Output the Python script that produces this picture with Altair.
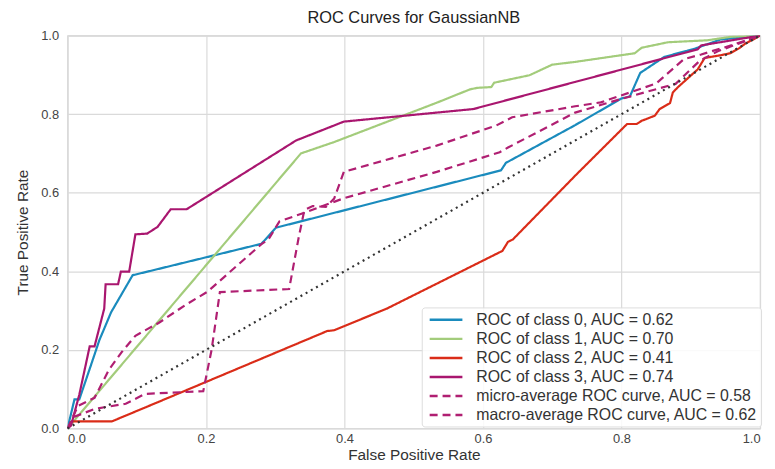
import altair as alt
import pandas as pd

# ---------------- data ----------------
c0_x = [0, 0.010, 0.017, 0.034, 0.046, 0.063, 0.094, 0.280, 0.301, 0.626, 0.633, 0.733, 0.800, 0.812, 0.827, 0.862, 0.903, 0.943, 1.0]
c0_y = [0, 0.074, 0.074, 0.162, 0.225, 0.296, 0.390, 0.470, 0.511, 0.657, 0.676, 0.772, 0.840, 0.845, 0.905, 0.946, 0.965, 0.990, 1.0]

c1_x = [0, 0.337, 0.385, 0.533, 0.581, 0.592, 0.612, 0.616, 0.667, 0.700, 0.733, 0.819, 0.829, 0.867, 0.924, 0.958, 1.0]
c1_y = [0, 0.700, 0.729, 0.829, 0.863, 0.867, 0.869, 0.880, 0.899, 0.926, 0.933, 0.955, 0.969, 0.983, 0.988, 0.997, 1.0]

c2_x = [0, 0.006, 0.064, 0.117, 0.375, 0.385, 0.461, 0.628, 0.636, 0.643, 0.734, 0.808, 0.822, 0.829, 0.848, 0.855, 0.870, 0.874, 0.881, 0.910, 0.920, 0.943, 0.957, 0.970, 0.979, 0.990, 1.0]
c2_y = [0, 0.018, 0.018, 0.057, 0.248, 0.250, 0.305, 0.452, 0.475, 0.481, 0.645, 0.775, 0.775, 0.783, 0.796, 0.813, 0.828, 0.855, 0.868, 0.914, 0.943, 0.950, 0.955, 0.968, 0.980, 0.990, 1.0]

c3_x = [0, 0.005, 0.017, 0.032, 0.039, 0.053, 0.055, 0.073, 0.077, 0.089, 0.098, 0.115, 0.130, 0.149, 0.172, 0.330, 0.399, 0.586, 0.733, 0.910, 0.915, 1.0]
c3_y = [0, 0.007, 0.086, 0.209, 0.209, 0.305, 0.367, 0.367, 0.399, 0.399, 0.494, 0.496, 0.513, 0.558, 0.558, 0.733, 0.781, 0.813, 0.882, 0.965, 0.975, 1.0]

micro_x = [0, 0.010, 0.040, 0.084, 0.112, 0.196, 0.208, 0.220, 0.320, 0.334, 0.342, 0.354, 0.373, 0.385, 0.399, 0.533, 0.619, 0.642, 0.733, 0.770, 0.850, 0.890, 0.915, 0.962, 1.0]
micro_y = [0, 0.030, 0.050, 0.063, 0.088, 0.095, 0.200, 0.347, 0.355, 0.488, 0.556, 0.566, 0.564, 0.585, 0.653, 0.720, 0.771, 0.792, 0.820, 0.830, 0.878, 0.940, 0.952, 0.977, 1.0]

macro_x = [0, 0.015, 0.039, 0.060, 0.079, 0.098, 0.132, 0.170, 0.202, 0.280, 0.290, 0.306, 0.342, 0.399, 0.533, 0.624, 0.636, 0.733, 0.800, 0.853, 0.878, 0.913, 0.939, 1.0]
macro_y = [0, 0.057, 0.078, 0.150, 0.196, 0.236, 0.269, 0.314, 0.348, 0.469, 0.481, 0.527, 0.549, 0.586, 0.653, 0.703, 0.715, 0.804, 0.839, 0.865, 0.877, 0.936, 0.960, 1.0]

labels = [
    "ROC of class 0, AUC = 0.62",
    "ROC of class 1, AUC = 0.70",
    "ROC of class 2, AUC = 0.41",
    "ROC of class 3, AUC = 0.74",
    "micro-average ROC curve, AUC = 0.58",
    "macro-average ROC curve, AUC = 0.62",
]
colors = ["#1a8bbd", "#a3cc7b", "#da2c18", "#a9166f", "#b01f72", "#b01f72"]
dashes = [[1, 0], [1, 0], [1, 0], [1, 0], [8, 5], [8, 5]]

diag_x = [0.0, 1.0]
diag_y = [0.0, 1.0]

# ---------------- build table ----------------
rows = []
for lab, xs, ys in zip(labels,
                       [c0_x, c1_x, c2_x, c3_x, micro_x, macro_x],
                       [c0_y, c1_y, c2_y, c3_y, micro_y, macro_y]):
    for i, (x, y) in enumerate(zip(xs, ys)):
        rows.append({"series": lab, "fpr": x, "tpr": y, "idx": i})
df = pd.DataFrame(rows)
diag = pd.DataFrame({"fpr": diag_x, "tpr": diag_y})

xscale = alt.Scale(domain=[0, 1], nice=False, zero=False)
yscale = alt.Scale(domain=[0, 1], nice=False, zero=False)

xaxis = alt.Axis(title="False Positive Rate", values=[0, 0.2, 0.4, 0.6, 0.8, 1.0], format=".1f",
                 labelPadding=4, titlePadding=2)
yaxis = alt.Axis(title="True Positive Rate", values=[0, 0.2, 0.4, 0.6, 0.8, 1.0], format=".1f",
                 labelPadding=9, titlePadding=10)

lines = alt.Chart(df).mark_line(strokeWidth=2.2, clip=True).encode(
    x=alt.X("fpr:Q", scale=xscale, axis=xaxis),
    y=alt.Y("tpr:Q", scale=yscale, axis=yaxis),
    color=alt.Color("series:N", sort=labels,
                    scale=alt.Scale(domain=labels, range=colors),
                    legend=alt.Legend(title=None)),
    strokeDash=alt.StrokeDash("series:N", sort=labels,
                              scale=alt.Scale(domain=labels, range=dashes),
                              legend=alt.Legend(title=None)),
    order="idx:Q",
)

diagonal = alt.Chart(diag).mark_line(color="#333333", strokeWidth=2.2, strokeDash=[2, 4]).encode(
    x=alt.X("fpr:Q", scale=xscale),
    y=alt.Y("tpr:Q", scale=yscale),
)

chart = alt.layer(lines, diagonal).properties(
    width=698,
    height=396,
    title=alt.TitleParams("ROC Curves for GaussianNB", fontSize=16.5, fontWeight="normal",
                          color="#222222", font="Liberation Sans", offset=3),
    autosize=alt.AutoSizeParams(type="none"),
    padding={"left": 60, "top": 26, "right": 7, "bottom": 31},
).configure_view(
    stroke="#d0d0d0", strokeWidth=1.2
).configure_axis(
    grid=True, gridColor="#dadada", gridWidth=1.2,
    domain=False, ticks=False,
    labelFont="Liberation Sans", labelFontSize=13, labelColor="#444444",
    titleFont="Liberation Sans", titleFontSize=15.5, titleFontWeight="normal", titleColor="#333333",
).configure_legend(
    orient="none", legendX=357, legendY=274,
    fillColor="rgba(255,255,255,0.85)", strokeColor="#dddddd", cornerRadius=3,
    padding=3, labelFont="Liberation Sans", labelFontSize=16, labelColor="#333333",
    symbolType="M-2,0H2", symbolSize=272, symbolStrokeWidth=2.5, rowPadding=1.2,
    labelLimit=400, symbolOffset=12, labelOffset=21,
)

chart.save("out.html", embed_options={"renderer": "svg", "actions": False})
